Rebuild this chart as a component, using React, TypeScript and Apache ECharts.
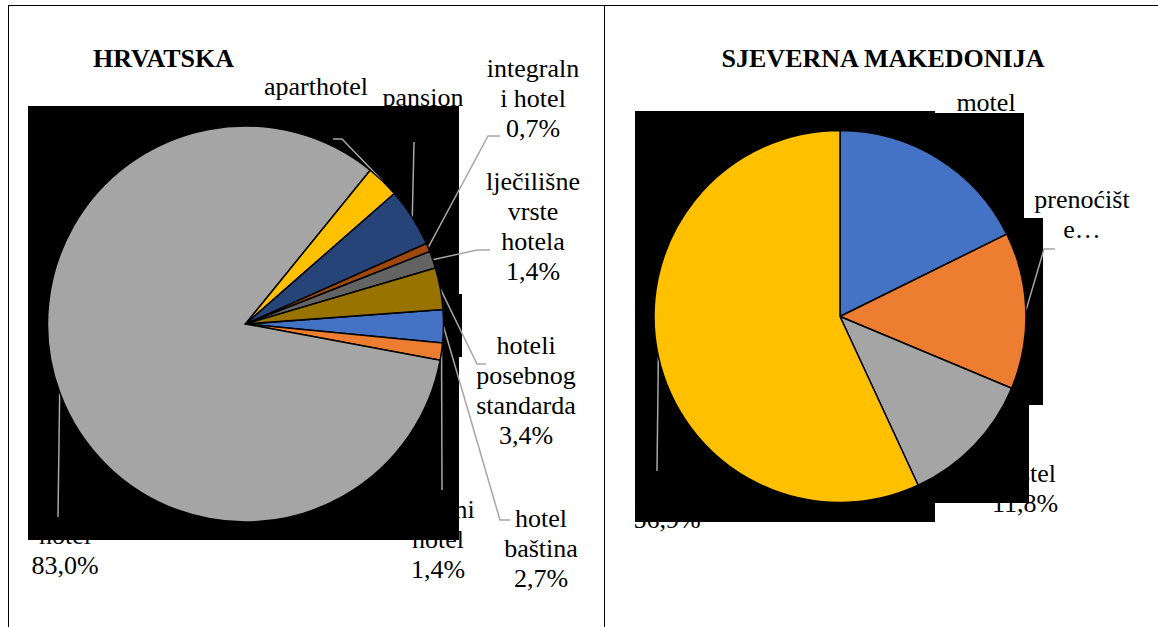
import React, { useEffect, useRef } from "react";
import * as echarts from "echarts";

// ---- Data ----
const leftTitle = "HRVATSKA";
const rightTitle = "SJEVERNA MAKEDONIJA";

const leftCategories = [
  "hotel baština",
  "difuzni hotel",
  "hotel",
  "aparthotel",
  "pansion",
  "integralni hotel",
  "lječilišne vrste hotela",
  "hoteli posebnog standarda",
];
const leftValues = [2.7, 1.4, 83.0, 2.7, 4.8, 0.7, 1.4, 3.4];
const leftLabelTexts = [
  "hotel\nbaština",
  "difuzni\nhotel",
  "hotel",
  "aparthotel",
  "pansion",
  "integraln\ni hotel",
  "lječilišne\nvrste\nhotela",
  "hoteli\nposebnog\nstandarda",
];

const rightCategories = ["motel", "prenoćište", "hostel", "hotel"];
const rightValues = [17.7, 13.6, 11.8, 56.9];
const rightLabelTexts = ["motel", "prenoćišt\ne…", "hostel", "hotel"];

// ---- Styles / layout ----
const leftColors = ["#4472C4", "#ED7D31", "#A5A5A5", "#FFC000", "#264478", "#9E480E", "#636363", "#997300"];
const rightColors = ["#4472C4", "#ED7D31", "#A5A5A5", "#FFC000"];

const leftLabelPos = [
  [541, 548],
  [438, 539],
  [65, 550],
  [316, 101],
  [423, 112],
  [533, 98],
  [533, 226.5],
  [526, 390],
];
const leftLeader: (number[][] | null)[] = [
  [[500, 520], [510, 520]],
  [[442, 490]],
  [[58, 517]],
  [[342, 139], [333, 139]],
  [[414, 142]],
  [[488, 136], [500, 136]],
  [[477, 250], [490, 250]],
  [[477, 364], [486, 364]],
];
const rightLabelPos = [
  [986, 117],
  [1082, 214],
  [1025, 488],
  [667, 504],
];
const rightLeader: (number[][] | null)[] = [null, [[1044, 249], [1055, 249]], null, [[657, 471]]];

const FONT = "Liberation Serif";

function fmt(v: number) {
  return v.toFixed(1).replace(".", ",") + "%";
}

const richStyle = {
  t: { fontFamily: FONT, fontSize: 26, lineHeight: 30, color: "#000", align: "center" },
};

function makeSeries(
  names: string[],
  values: number[],
  texts: string[],
  colors: string[],
  center: number[],
  radius: number,
  startAngle: number,
  pos: number[][],
  leader: (number[][] | null)[]
) {
  return {
    type: "pie",
    center,
    radius,
    startAngle,
    clockwise: true,
    avoidLabelOverlap: false,
    emphasis: { disabled: true },
    itemStyle: { borderColor: "#000", borderWidth: 1.5 },
    label: {
      show: true,
      position: "outside",
      color: "#000",
      fontFamily: FONT,
      fontSize: 26,
      lineHeight: 30,
      align: "center",
      rich: richStyle,
      formatter: (p: any) => {
        const t = texts[p.dataIndex];
        const full = t.endsWith("…") ? t : t + "\n" + fmt(p.value);
        return full
          .split("\n")
          .map((s) => "{t|" + s + "}")
          .join("\n");
      },
    },
    labelLine: {
      show: true,
      lineStyle: { color: "#A6A6A6", width: 1.5 },
    },
    labelLayout: (params: any) => {
      const i = params.dataIndex;
      const res: any = {
        x: pos[i][0],
        y: pos[i][1],
        align: "center",
        verticalAlign: "middle",
        hideOverlap: false,
      };
      const l = leader[i];
      if (l && params.labelLinePoints && params.labelLinePoints.length) {
        const start = params.labelLinePoints[0];
        const pts = [start, ...l];
        while (pts.length < 3) pts.push(pts[pts.length - 1]);
        res.labelLinePoints = pts;
      }
      return res;
    },
    data: names.map((n, i) => ({
      name: n,
      value: values[i],
      itemStyle: { color: colors[i] },
      labelLine: { show: leader[i] != null },
    })),
  };
}

export default function App() {
  const ref = useRef<HTMLDivElement>(null);
  useEffect(() => {
    if (!ref.current) return;
    const chart = echarts.init(ref.current, null, { renderer: "svg" });
    const black = (x1: number, y1: number, x2: number, y2: number) => ({
      type: "rect",
      shape: { x: x1, y: y1, width: x2 - x1, height: y2 - y1 },
      style: { fill: "#000" },
      silent: true,
      z: 0,
    });
    const line = (x1: number, y1: number, x2: number, y2: number) => ({
      type: "line",
      shape: { x1, y1, x2, y2 },
      style: { stroke: "#000", lineWidth: 1 },
      silent: true,
      z: 0,
    });
    chart.setOption({
      animation: false,
      backgroundColor: "#fff",
      textStyle: { fontFamily: FONT },
      title: [
        {
          text: leftTitle,
          left: 163.5,
          top: 45,
          textAlign: "center",
          padding: 0,
          textStyle: { fontFamily: FONT, fontSize: 26, fontWeight: "bold", color: "#000", lineHeight: 26 },
        },
        {
          text: rightTitle,
          left: 883,
          top: 45,
          textAlign: "center",
          padding: 0,
          textStyle: { fontFamily: FONT, fontSize: 26, fontWeight: "bold", color: "#000", lineHeight: 26 },
        },
      ],
      graphic: [
        line(8, 5.5, 1158, 5.5),
        line(8.5, 5, 8.5, 627),
        line(604.5, 5, 604.5, 627),
        black(28, 106, 459, 540),
        black(459, 294, 462, 357),
        black(635, 111, 935, 522),
        black(935, 113, 1024, 503),
        black(1024, 218, 1043, 405),
        black(1024, 405, 1029, 503),
      ],
      series: [
        makeSeries(leftCategories, leftValues, leftLabelTexts, leftColors, [245.5, 324], 198, 4.2, leftLabelPos, leftLeader),
        makeSeries(rightCategories, rightValues, rightLabelTexts, rightColors, [840, 316.5], 186, 90, rightLabelPos, rightLeader),
      ],
    });
    return () => chart.dispose();
  }, []);
  return <div ref={ref} style={{ position: "fixed", left: 0, top: 0, width: 1158, height: 627 }} />;
}
